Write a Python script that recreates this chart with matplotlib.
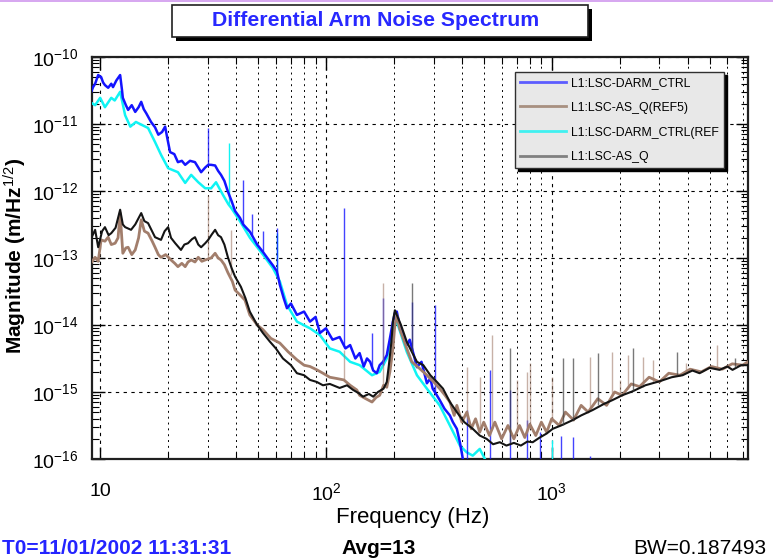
import numpy as np
import matplotlib.pyplot as plt
from matplotlib.lines import Line2D
from matplotlib.patches import Rectangle
from matplotlib.ticker import LogLocator, NullFormatter

plt.rcParams['font.family'] = ['Liberation Sans', 'DejaVu Sans']
plt.rcParams['mathtext.fontset'] = 'custom'
plt.rcParams['mathtext.rm'] = 'Liberation Sans'
plt.rcParams['mathtext.it'] = 'Liberation Sans'
plt.rcParams['mathtext.bf'] = 'Liberation Sans:bold'

# --- data (frequency in Hz, magnitude as log10 of m/rtHz) ---
darm_hz = [9.0, 9.3, 9.5, 9.8, 10.1, 10.3, 10.5, 10.85, 11.2, 11.4, 11.8, 12.26, 12.5, 12.6,
           13.0, 13.3, 13.8, 14.3, 14.8, 15.2, 15.6, 16.0, 16.8, 17.5, 18.1, 18.8, 19.4, 19.8,
           20.4, 21.3, 22.1, 23.0, 23.8, 25.0, 26.3, 27.2, 28.0, 29.2, 30.1, 31.0, 32.3, 33.3,
           34.3, 35.5, 36.8, 38.2, 39.6, 41.6, 43.0, 46.1, 49.6, 52.6, 55.0, 58.2, 60.7, 62.5,
           65.0, 67.2, 70.0, 74.4, 80.0, 85.0, 90.0, 94.0, 100.0, 107.0, 115.0, 122.0, 128.0,
           135.0, 141.0, 147.0, 152.0, 157.0, 162.0, 168.0, 173.0, 179.0, 186.0, 192.0, 198.0,
           202.0, 206.0, 212.0, 220.0, 228.0, 235.0, 245.0, 253.0, 265.0, 280.0, 290.0, 297.0,
           310.0, 319.0, 335.0, 354.0, 365.0, 380.0, 392.0, 404.0, 420.0, 450.0, 500.0, 600.0,
           800.0, 1200.0, 1600.0]
darm_exp = [-10.57, -10.45, -10.40, -10.27, -10.30, -10.38, -10.42, -10.46, -10.40, -10.45,
            -10.35, -10.27, -10.50, -10.61, -10.72, -10.79, -10.72, -10.82, -10.75, -10.67,
            -10.78, -10.84, -10.97, -11.05, -11.16, -11.12, -11.04, -11.20, -11.42, -11.45,
            -11.57, -11.55, -11.61, -11.55, -11.57, -11.65, -11.72, -11.65, -11.61, -11.61,
            -11.62, -11.70, -11.76, -11.85, -12.01, -12.15, -12.30, -12.40, -12.50, -12.61,
            -12.80, -12.91, -13.00, -13.11, -13.20, -13.40, -13.60, -13.75, -13.68, -13.85,
            -13.80, -13.95, -13.88, -14.12, -14.05, -14.22, -14.18, -14.35, -14.30, -14.50,
            -14.42, -14.62, -14.50, -14.55, -14.68, -14.72, -14.60, -14.55, -14.45, -14.20,
            -13.95, -13.82, -13.80, -14.00, -14.15, -14.30, -14.22, -14.45, -14.63, -14.55,
            -14.87, -14.80, -14.95, -15.05, -15.12, -15.25, -15.35, -15.45, -15.55, -15.75,
            -16.00, -16.20, -16.15, -16.20, -16.30, -16.30, -16.30, -16.30]
darm_spike_hz = [30.1, 43.0, 47.1, 52.6, 60.7, 120.0, 160.0, 179.0, 240.0, 303.0,
                 421.0, 532.0, 652.0, 774.0, 885.0, 1100.0, 1239.0, 1473.0]
darm_spike_base = [-11.62, -12.50, -12.65, -12.90, -13.20, -14.30, -14.65, -14.60, -14.40,
                   -15.00, -16.10, -16.10, -16.10, -16.10, -16.10, -16.10, -16.10, -16.10]
darm_spike_top = [-11.06, -11.84, -12.35, -12.60, -12.55, -12.25, -14.12, -13.60, -13.65,
                  -13.70, -15.27, -14.67, -14.97, -15.42, -15.60, -15.65, -15.67, -15.95]

darm_ref_hz = [9.0, 9.5, 10.0, 10.5, 11.2, 11.6, 12.26, 12.9, 13.6, 14.4, 15.2, 16.3, 17.5,
               18.6, 20.0, 22.1, 23.8, 25.3, 27.2, 29.2, 31.0, 32.6, 35.0, 37.0, 38.0, 41.6,
               46.1, 52.6, 58.2, 62.5, 67.2, 74.4, 85.0, 94.0, 104.0, 115.0, 128.0, 141.0,
               160.0, 173.0, 186.0, 198.0, 206.0, 228.0, 253.0, 280.0, 319.0, 354.0, 392.0,
               420.0, 447.0, 480.0, 515.0, 560.0, 700.0]
darm_ref_exp = [-10.67, -10.72, -10.61, -10.75, -10.61, -10.65, -10.52, -10.87, -11.04, -10.97,
                -11.01, -11.06, -11.27, -11.46, -11.66, -11.72, -11.88, -11.76, -11.87, -11.96,
                -11.96, -11.87, -12.06, -12.20, -12.25, -12.45, -12.70, -12.95, -13.15, -13.35,
                -13.70, -13.95, -14.05, -14.15, -14.35, -14.40, -14.55, -14.60, -14.75, -14.70,
                -14.50, -14.05, -13.95, -14.40, -14.75, -14.95, -15.20, -15.50, -15.80, -15.90,
                -15.95, -15.85, -16.05, -16.10, -16.20]
darm_ref_spike_hz = [37.2, 60.7, 1000.0]
darm_ref_spike_base = [-12.20, -13.20, -16.10]
darm_ref_spike_top = [-11.28, -12.62, -15.72]

asq_ref_hz = [9.0, 9.5, 9.8, 10.1, 10.5, 10.85, 11.2, 11.65, 12.0, 12.26, 12.6, 13.0, 13.3,
              13.8, 14.3, 14.8, 15.2, 15.7, 16.3, 17.0, 17.5, 18.1, 18.6, 19.5, 20.6, 21.4,
              22.1, 23.0, 23.8, 24.5, 25.3, 26.3, 27.2, 28.2, 29.2, 31.0, 32.3, 33.3, 34.3,
              35.5, 36.8, 38.5, 39.6, 41.6, 43.8, 46.0, 49.6, 52.6, 57.0, 62.5, 68.0, 74.4,
              80.0, 85.0, 91.2, 97.0, 104.0, 112.0, 120.0, 128.0, 137.0, 141.0, 150.0, 160.0,
              167.0, 173.0, 180.0, 186.0, 192.0, 198.0, 202.0, 206.0, 212.0, 228.0, 240.0,
              260.0, 280.0, 300.0, 319.0, 337.0, 354.0, 370.0, 380.0, 400.0, 421.0, 440.0,
              460.0, 480.0, 500.0, 530.0, 560.0, 600.0, 640.0, 680.0, 720.0, 760.0, 800.0,
              850.0, 900.0, 950.0, 1000.0, 1080.0, 1150.0, 1250.0, 1350.0, 1450.0, 1600.0,
              1750.0, 1900.0, 2050.0, 2250.0, 2450.0, 2700.0, 3000.0, 3300.0, 3700.0, 4100.0,
              4600.0, 5100.0, 5700.0, 6300.0, 7000.0, 7400.0]
asq_ref_exp = [-13.10, -12.99, -13.05, -12.73, -12.75, -12.69, -12.80, -12.78, -12.70, -12.33,
               -12.93, -12.85, -12.84, -12.95, -12.88, -12.70, -12.43, -12.60, -12.63, -12.75,
               -12.84, -12.95, -12.99, -12.95, -13.03, -13.08, -13.13, -13.08, -13.13, -13.06,
               -13.03, -13.06, -12.99, -13.05, -13.03, -13.00, -12.93, -13.00, -13.03, -13.10,
               -13.22, -13.35, -13.48, -13.55, -13.63, -13.85, -14.00, -14.07, -14.20, -14.27,
               -14.40, -14.52, -14.60, -14.62, -14.67, -14.72, -14.78, -14.80, -14.82, -14.90,
               -14.97, -15.05, -15.10, -15.15, -15.08, -15.05, -14.90, -14.93, -14.70, -14.35,
               -14.00, -13.85, -14.05, -14.35, -14.55, -14.65, -14.75, -14.85, -14.95, -15.05,
               -15.15, -15.35, -15.20, -15.45, -15.30, -15.55, -15.40, -15.60, -15.45, -15.65,
               -15.45, -15.70, -15.50, -15.70, -15.50, -15.68, -15.48, -15.65, -15.45, -15.60,
               -15.40, -15.50, -15.30, -15.42, -15.20, -15.30, -15.10, -15.20, -15.00, -15.05,
               -14.88, -14.92, -14.78, -14.85, -14.72, -14.75, -14.66, -14.70, -14.62, -14.66,
               -14.58, -14.60, -14.55]
asq_ref_spike_hz = [30.1, 38.0, 120.0, 179.0, 421.0, 480.0, 543.0, 705.0, 774.0, 800.0,
                    1000.0, 1473.0, 1843.0, 2000.0, 2170.0, 2528.0, 2800.0, 3950.0, 5370.0]
asq_ref_spike_base = [-13.00, -13.25, -14.82, -14.90, -15.35, -15.55, -15.55, -15.60, -15.60,
                      -15.55, -15.45, -15.25, -15.05, -15.05, -14.95, -14.92, -14.85, -14.70,
                      -14.65]
asq_ref_spike_top = [-12.06, -12.58, -14.37, -13.37, -14.63, -14.78, -14.15, -14.82, -14.70,
                     -14.57, -14.78, -14.48, -14.40, -14.82, -14.45, -14.48, -14.52, -14.57,
                     -14.30]

asq_hz = [9.0, 9.5, 9.8, 10.2, 10.5, 10.9, 11.2, 11.7, 12.26, 12.6, 12.9, 13.7, 14.3, 15.2,
          15.7, 16.3, 17.5, 18.6, 19.3, 20.0, 20.6, 21.5, 22.8, 23.6, 24.5, 25.5, 26.3, 27.2,
          28.0, 29.2, 30.1, 31.2, 32.3, 33.3, 34.3, 35.5, 36.8, 38.2, 39.6, 42.0, 44.0, 46.0,
          49.6, 52.6, 56.5, 60.0, 64.5, 70.0, 74.4, 80.0, 85.0, 91.0, 97.0, 104.0, 115.0,
          124.0, 132.0, 140.0, 146.0, 155.0, 162.0, 170.0, 180.0, 186.0, 190.0, 195.0, 198.0,
          202.0, 206.0, 215.0, 228.0, 240.0, 253.0, 270.0, 290.0, 310.0, 330.0, 354.0, 380.0,
          410.0, 447.0, 480.0, 515.0, 550.0, 589.0, 630.0, 680.0, 730.0, 780.0, 824.0, 885.0,
          950.0, 1010.0, 1100.0, 1239.0, 1350.0, 1518.0, 1700.0, 1862.0, 2050.0, 2282.0,
          2600.0, 3006.0, 3400.0, 3800.0, 4200.0, 4518.0, 5000.0, 5539.0, 6000.0, 6323.0,
          6900.0, 7400.0]
asq_exp = [-12.75, -12.58, -12.84, -12.60, -12.54, -12.66, -12.63, -12.55, -12.28, -12.50,
           -12.54, -12.58, -12.50, -12.33, -12.45, -12.48, -12.69, -12.73, -12.60, -12.54,
           -12.70, -12.78, -12.88, -12.80, -12.78, -12.72, -12.69, -12.80, -12.84, -12.78,
           -12.73, -12.65, -12.58, -12.66, -12.69, -12.80, -12.99, -13.15, -13.28, -13.43,
           -13.60, -13.80, -14.00, -14.12, -14.25, -14.35, -14.50, -14.60, -14.72, -14.75,
           -14.82, -14.85, -14.90, -14.88, -14.94, -14.90, -14.97, -15.02, -15.07, -15.03,
           -15.07, -15.00, -14.95, -14.85, -14.60, -14.25, -13.95, -13.78, -13.85, -14.00,
           -14.25, -14.40, -14.55, -14.60, -14.75, -14.85, -14.95, -15.15, -15.30, -15.45,
           -15.55, -15.65, -15.70, -15.78, -15.75, -15.80, -15.76, -15.80, -15.74, -15.75,
           -15.68, -15.62, -15.55, -15.50, -15.42, -15.35, -15.27, -15.18, -15.12, -15.05,
           -14.99, -14.90, -14.84, -14.78, -14.75, -14.68, -14.72, -14.64, -14.67, -14.62,
           -14.67, -14.60, -14.60]
asq_spike_hz = [240.0, 652.0, 1119.0, 1239.0, 1598.0, 2282.0, 3600.0, 6460.0]
asq_spike_base = [-14.40, -15.76, -15.50, -15.42, -15.20, -14.99, -14.75, -14.62]
asq_spike_top = [-13.37, -14.34, -14.49, -14.49, -14.42, -14.34, -14.40, -14.49]

legend_labels = ['L1:LSC-DARM_CTRL', 'L1:LSC-AS_Q(REF5)', 'L1:LSC-DARM_CTRL(REF', 'L1:LSC-AS_Q']


def mag(values):
    return np.power(10.0, np.asarray(values))


def px(x, y):
    # figure fraction from reference pixel position (top-left origin)
    return x / 773, 1 - y / 560


fig = plt.figure(figsize=(7.73, 5.60), dpi=100)
ax = fig.add_axes([0.119, 0.1804, 0.8486, 0.7179])

blue = '#1414ff'
cyan = '#10f4f4'
brown = '#a27e6c'
black = '#141414'

# spectra: cyan under blue, brown under black
ax.plot(darm_ref_hz, mag(darm_ref_exp), color=cyan, lw=1.8, zorder=3)
ax.vlines(darm_ref_spike_hz, mag(darm_ref_spike_base), mag(darm_ref_spike_top), color=cyan, lw=1.0, zorder=3)
ax.plot(darm_hz, mag(darm_exp), color=blue, lw=1.8, zorder=4)
ax.vlines(darm_spike_hz, mag(darm_spike_base), mag(darm_spike_top), color=blue, lw=1.0, alpha=0.8, zorder=4)
ax.plot(asq_ref_hz, mag(asq_ref_exp), color=brown, lw=2.0, zorder=5)
ax.vlines(asq_ref_spike_hz, mag(asq_ref_spike_base), mag(asq_ref_spike_top), color=brown, lw=1.0, alpha=0.6, zorder=5)
ax.plot(asq_hz, mag(asq_exp), color=black, lw=1.5, zorder=6)
ax.vlines(asq_spike_hz, mag(asq_spike_base), mag(asq_spike_top), color='#404040', lw=1.0, alpha=0.7, zorder=6)

ax.set_xscale('log')
ax.set_yscale('log')
ax.set_xlim(9.2, 7400)
ax.set_ylim(1e-16, 1e-10)

ax.set_xticks([10, 100, 1000])
ax.set_xticklabels(['10', r'$10^{2}$', r'$10^{3}$'])
ax.xaxis.set_minor_locator(LogLocator(base=10, subs=np.arange(2, 10)))
ax.xaxis.set_minor_formatter(NullFormatter())
yt = [1e-10, 1e-11, 1e-12, 1e-13, 1e-14, 1e-15, 1e-16]
ax.set_yticks(yt)
ax.set_yticklabels([r'$10^{-%d}$' % k for k in range(10, 17)])
ax.yaxis.set_minor_locator(LogLocator(base=10, subs=np.arange(2, 10)))
ax.yaxis.set_minor_formatter(NullFormatter())

ax.tick_params(which='both', direction='in', top=True, right=True, colors='black')
ax.tick_params(which='major', length=9, width=1.0, labelsize=14)
ax.tick_params(which='minor', length=5, width=0.8)
ax.tick_params(axis='x', which='major', pad=17)
ax.tick_params(axis='y', which='major', pad=10)

ax.grid(True, which='major', axis='both', color='black', lw=0.8, ls=(0, (3, 4)))
ax.grid(True, which='minor', axis='x', color='black', lw=0.7, ls=(0, (2, 4)))
ax.set_axisbelow(True)
for sp in ax.spines.values():
    sp.set_linewidth(1.6)
    sp.set_color('#202020')

fig.text(*px(413, 518), 'Frequency (Hz)', fontsize=16, ha='center', va='center')
fig.text(*px(15, 256), r'Magnitude (m/Hz$^{1/2}$)', fontsize=15, fontweight='bold',
         rotation=90, ha='center', va='center')

# legend with drop shadow
handles = [Line2D([], [], color='#5c5cff', lw=2),
           Line2D([], [], color='#a89080', lw=2),
           Line2D([], [], color='#40f0f0', lw=2),
           Line2D([], [], color='#808080', lw=2)]
leg = fig.legend(handles, legend_labels, loc='upper left',
                 bbox_to_anchor=px(515, 72), borderaxespad=0, fontsize=8.8,
                 frameon=True, fancybox=False, shadow={'color': 'black', 'alpha': 1.0},
                 facecolor='#e8e8e8', edgecolor='#303030', framealpha=1.0,
                 handlelength=3.8, labelspacing=1.05, borderpad=0.4, handletextpad=0.4)
leg.get_frame().set_linewidth(1.0)
leg.set_zorder(10)

# title box with shadow
fig.patches.append(Rectangle(px(176, 41), 416 / 773, 32 / 560,
                             transform=fig.transFigure, facecolor='black', edgecolor='none'))
fig.patches.append(Rectangle(px(172, 37), 416 / 773, 32 / 560,
                             transform=fig.transFigure, facecolor='white', edgecolor='#202020', lw=1.2))
fig.text(*px(376, 21), 'Differential Arm Noise Spectrum', color='#2828ff',
         fontsize=15.3, fontweight='bold', ha='center', va='center')

# thin window edge along the top
fig.patches.append(Rectangle(px(0, 2), 1, 2 / 560, transform=fig.transFigure,
                             facecolor='#d7a8f0', edgecolor='none'))

# footer
fig.text(*px(2, 549), 'T0=11/01/2002 11:31:31', color='#2424ff',
         fontsize=15, fontweight='bold', ha='left', va='center')
fig.text(*px(341, 549), 'Avg=13', color='black', fontsize=15,
         fontweight='bold', ha='left', va='center')
fig.text(*px(766, 549), 'BW=0.187493', color='black', fontsize=15,
         ha='right', va='center')

fig.savefig('out.png', dpi=100)
